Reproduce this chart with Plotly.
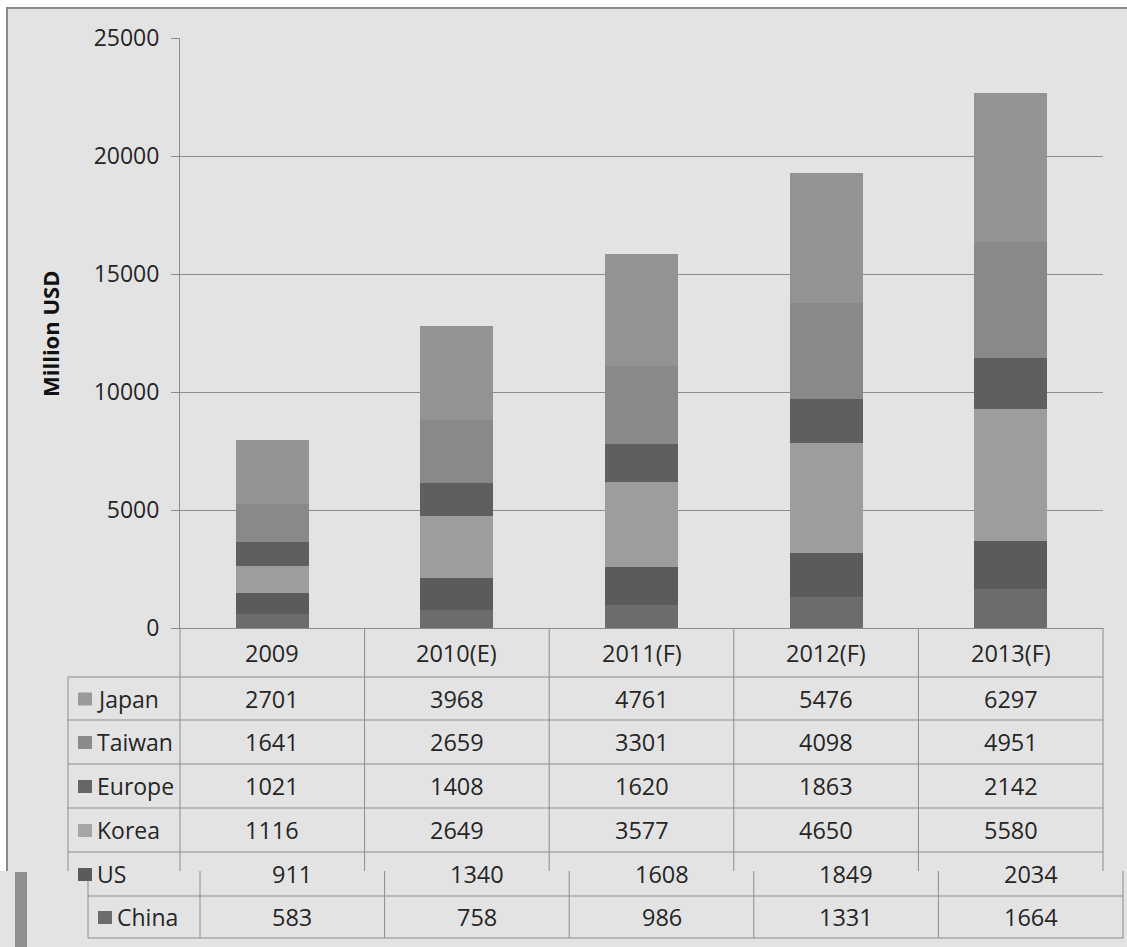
import plotly.graph_objects as go

categories = ["2009", "2010(E)", "2011(F)", "2012(F)", "2013(F)"]
japan = [2701, 3968, 4761, 5476, 6297]
taiwan = [1641, 2659, 3301, 4098, 4951]
europe = [1021, 1408, 1620, 1863, 2142]
korea = [1116, 2649, 3577, 4650, 5580]
us = [911, 1340, 1608, 1849, 2034]
china = [583, 758, 986, 1331, 1664]

y_ticks = [0, 5000, 10000, 15000, 20000, 25000]

# stacking order bottom -> top
stack = [
    ("China", china, "#6c6c6c", "#6c6c6c"),
    ("US", us, "#5b5b5b", "#5b5b5b"),
    ("Korea", korea, "#9d9d9d", "#a5a5a5"),
    ("Europe", europe, "#5f5f5f", "#666666"),
    ("Taiwan", taiwan, "#898989", "#8a8a8a"),
    ("Japan", japan, "#939393", "#9a9a9a"),
]
table_rows = ["Japan", "Taiwan", "Europe", "Korea", "US", "China"]
series = {name: (vals, col, leg) for name, vals, col, leg in stack}

W_PX, H_PX = 1127, 947
L, R, T, B = 180, 1103, 38, 628
PW, PH = R - L, B - T


def px(x):
    return (x - L) / PW


def py(y):
    return (B - y) / PH


LINE = "#8c8c8c"
TXT = "#262626"
FONT = "Open Sans"
BG = "#e3e3e3"
TSIZE = 23.5

fig = go.Figure()
for name, vals, col, leg in stack:
    fig.add_trace(go.Bar(
        x=categories, y=vals, name=name, marker_color=col,
        marker_line_width=0, width=0.395, showlegend=False,
    ))

shapes = []
ann = []


def hline(y, x0, x1, color=LINE, w=1):
    shapes.append(dict(type="line", xref="paper", yref="paper",
                       x0=px(x0), x1=px(x1), y0=py(y), y1=py(y),
                       line=dict(color=color, width=w)))


def vline(x, y0, y1, color=LINE, w=1):
    shapes.append(dict(type="line", xref="paper", yref="paper",
                       x0=px(x), x1=px(x), y0=py(y0), y1=py(y1),
                       line=dict(color=color, width=w)))


# frame: white outside, gray border top/left
shapes.append(dict(type="rect", xref="paper", yref="paper", x0=px(-5), x1=px(1135),
                   y0=py(-5), y1=py(7), fillcolor="white", line_width=0, layer="below"))
shapes.append(dict(type="rect", xref="paper", yref="paper", x0=px(-5), x1=px(6),
                   y0=py(-5), y1=py(871), fillcolor="white", line_width=0, layer="below"))
hline(8, 6, 1127, color="#8a8a8a", w=2)
vline(7, 8, 871, color="#8a8a8a", w=2)
# thick bar bottom-left
shapes.append(dict(type="rect", xref="paper", yref="paper", x0=px(15), x1=px(27),
                   y0=py(872), y1=py(947), fillcolor="#8f8f8f", line_width=0))

# table grid (upper part)
n = len(categories)
col_w = PW / n
bounds = [L + k * col_w for k in range(n + 1)]
for xb in bounds:
    vline(xb, B, 871)
vline(68, 677, 871)
for yy in [677, 720, 764, 808, 852]:
    hline(yy, 68, R)
# lower, shifted part of the table
SH = 20
for xb in bounds:
    vline(xb + SH, 871, 938)
vline(88, 871, 938)
for yy in [896, 938]:
    hline(yy, 88, R + SH)

# header labels (category index positions on the x axis)
for i, c in enumerate(categories):
    ann.append(dict(x=i, xref="x", y=py(653), yref="paper", text=c, showarrow=False,
                    font=dict(family=FONT, size=TSIZE, color=TXT), xanchor="center", yanchor="middle"))

row_centers = [698.5, 742, 786, 830, 874, 917]
for rname, yc in zip(table_rows, row_centers):
    vals, col, leg = series[rname]
    shift = SH if rname in ("US", "China") else 0
    lab_shift = SH if rname == "China" else 0
    shapes.append(dict(type="rect", xref="paper", yref="paper",
                       x0=px(78 + lab_shift), x1=px(92 + lab_shift),
                       y0=py(yc - 6), y1=py(yc + 7), fillcolor=leg, line_width=0))
    ann.append(dict(x=px(95 + lab_shift), xref="paper", y=py(yc), yref="paper", text=rname,
                    showarrow=False, font=dict(family=FONT, size=TSIZE - 0.5, color=TXT),
                    xanchor="left", yanchor="middle"))
    for i, v in enumerate(vals):
        ann.append(dict(x=i, xref="x", y=py(yc), yref="paper", text=str(v), showarrow=False,
                        xshift=shift, font=dict(family=FONT, size=TSIZE, color=TXT),
                        xanchor="center", yanchor="middle"))

# y axis title
ann.append(dict(x=px(50), xref="paper", y=py(334), yref="paper", text="<b>Million USD</b>",
                textangle=-90, showarrow=False, font=dict(family=FONT, size=22, color="#111111"),
                xanchor="center", yanchor="middle"))

fig.update_layout(
    width=W_PX, height=H_PX,
    margin=dict(l=L, r=W_PX - R, t=T, b=H_PX - B, pad=0),
    paper_bgcolor=BG, plot_bgcolor=BG,
    barmode="stack", bargap=0.6,
    font=dict(family=FONT, color=TXT),
    shapes=shapes, annotations=ann,
    xaxis=dict(range=[-0.5, n - 0.5], showticklabels=False, ticks="", showgrid=False,
               showline=True, linecolor=LINE, linewidth=1, zeroline=False, fixedrange=True),
    yaxis=dict(range=[0, 25000], tickvals=y_ticks, ticktext=[str(t) for t in y_ticks],
               showgrid=True, gridcolor=LINE, gridwidth=1, zeroline=False,
               showline=True, linecolor=LINE, linewidth=1,
               ticks="outside", ticklen=8, tickcolor=LINE, tickwidth=1,
               ticklabelstandoff=7,
               tickfont=dict(family=FONT, size=23, color=TXT)),
)

fig.write_html("out.html")
